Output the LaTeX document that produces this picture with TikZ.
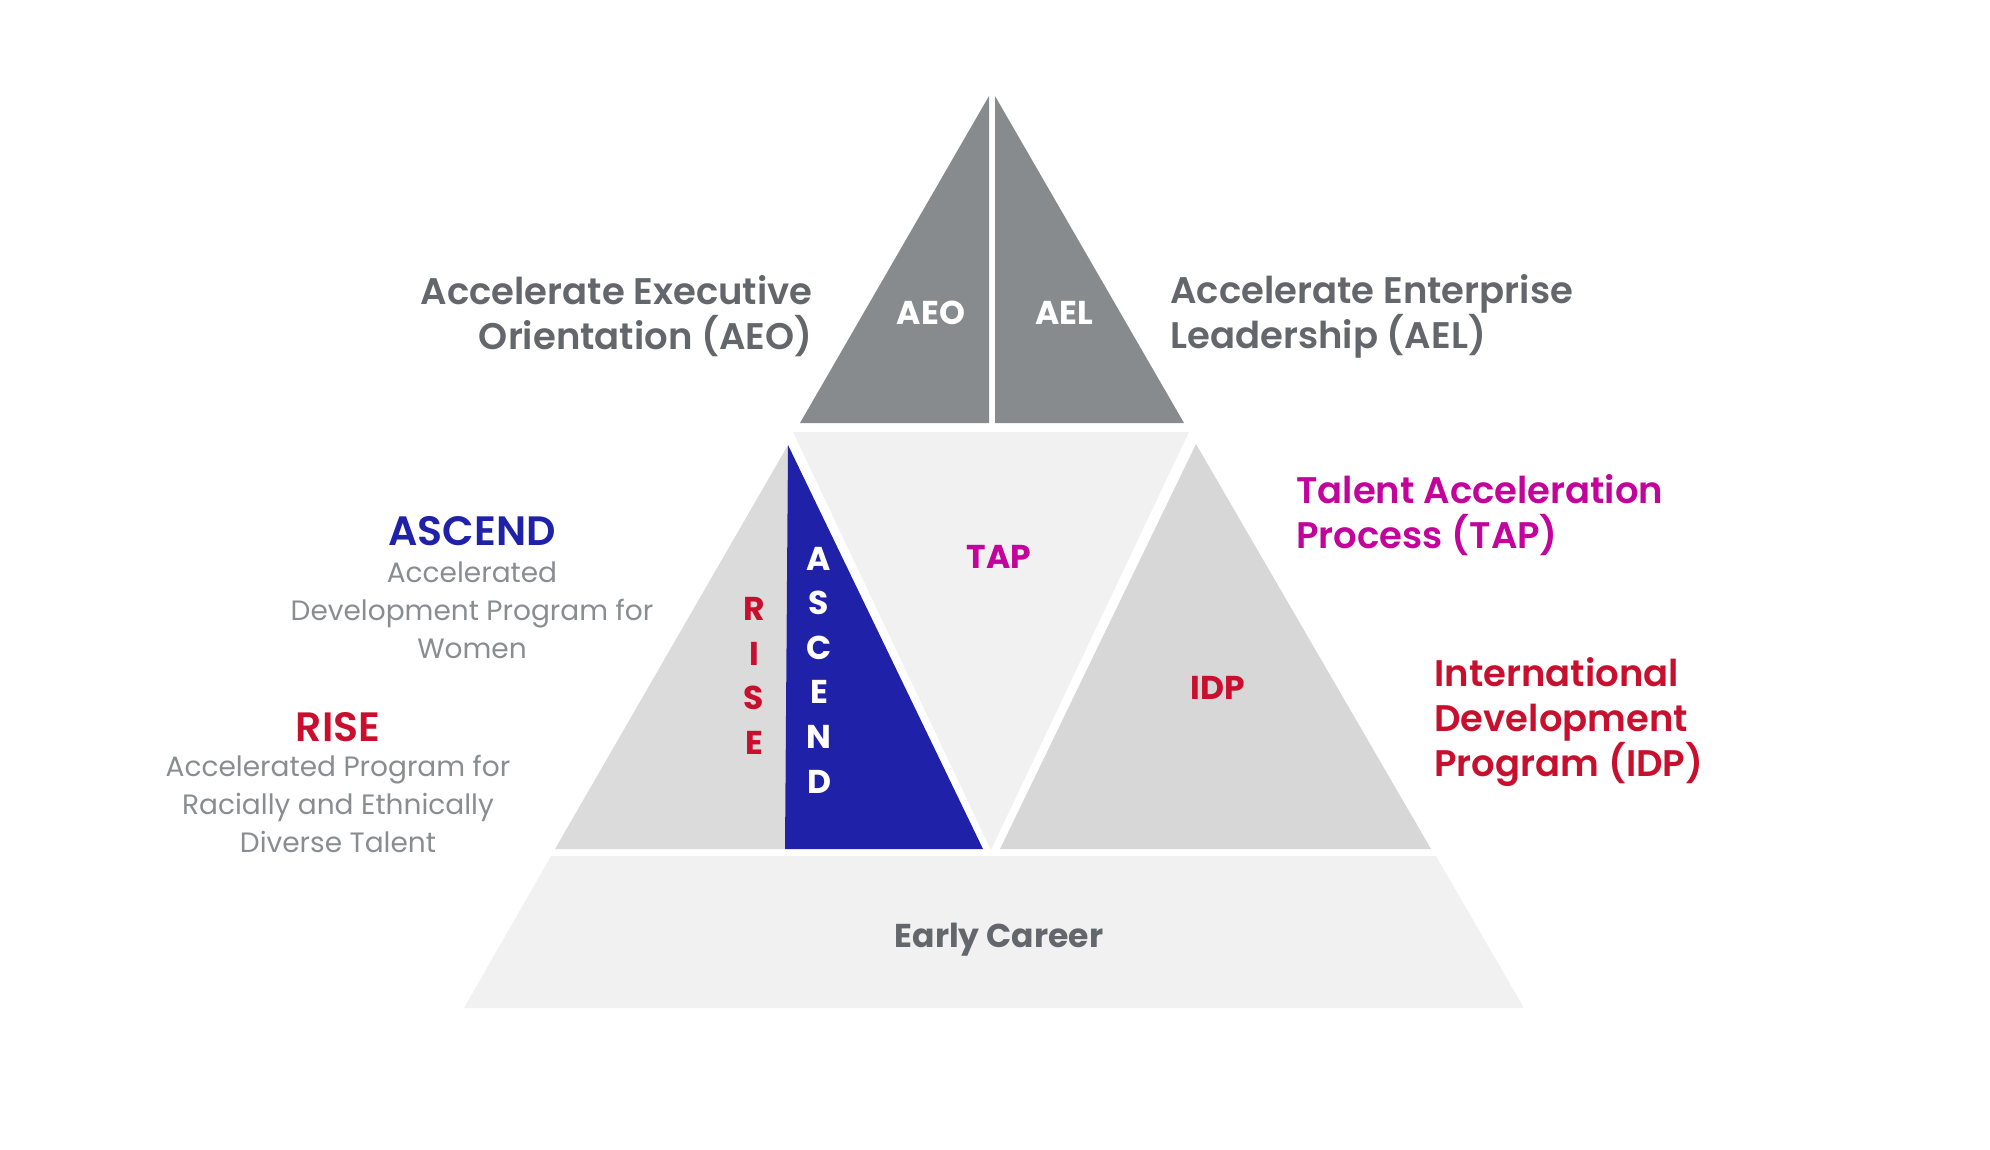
\documentclass[tikz,border=0pt]{standalone}
\usepackage{fontspec}
\setmainfont{Poppins}[BoldFont={* SemiBold}]
\newfontfamily\heavyfont{Poppins}[UprightFont={* Bold}]
\definecolor{topgray}{HTML}{888B8E}
\definecolor{midgray}{HTML}{DBDBDB}
\definecolor{midgrayb}{HTML}{D7D7D7}
\definecolor{lightgray}{HTML}{F1F1F1}
\definecolor{navy}{HTML}{1F21A8}
\definecolor{crimson}{HTML}{C8102E}
\definecolor{magenta}{HTML}{C2039C}
\definecolor{darktext}{HTML}{63666A}
\definecolor{softtext}{HTML}{8A8D90}
\begin{document}
\begin{tikzpicture}[x=0.5pt,y=-0.5pt,
  head/.style={font=\bfseries\fontsize{18.5}{22.5}\selectfont, inner sep=0pt},
  bighead/.style={font=\bfseries\fontsize{20.5}{24}\selectfont, inner sep=0pt},
  body/.style={font=\fontsize{14}{19.1}\selectfont, text=softtext, inner sep=0pt, align=center},
  inlabel/.style={font=\heavyfont\fontsize{16.5}{20}\selectfont, inner sep=0pt},
  vletters/.style={font=\heavyfont\fontsize{16.5}{22.3}\selectfont, inner sep=0pt, align=center}]
\useasboundingbox (0,0) rectangle (1990,1150);
% top triangle halves
\fill[topgray] (800,423) -- (989,96) -- (989,423) -- cycle;
\fill[topgray] (995,96) -- (1184,423) -- (995,423) -- cycle;
% TAP inverted triangle
\fill[lightgray] (793,432) -- (1189,432) -- (991,850) -- cycle;
% left triangle (RISE) and blue (ASCEND)
\fill[midgray] (555,849) -- (788,445) -- (785,849) -- cycle;
\fill[navy] (788,445) -- (983,849) -- (785,849) -- cycle;
% right triangle (IDP)
\fill[midgrayb] (1000,849) -- (1196,444) -- (1431,849) -- cycle;
% bottom trapezoid
\fill[lightgray] (551,856) -- (1436,856) -- (1524,1008) -- (464,1008) -- cycle;

% inner labels
\node[inlabel, text=white] (aeo) at (931,313) {AEO};
\node[inlabel, text=white] (ael) at (1064,313) {AEL};
\node[inlabel, text=magenta] (tap) at (999,557) {TAP};
\node[inlabel, text=crimson] (idp) at (1218,688) {IDP};
\node[inlabel, text=darktext] (early) at (999,940) {Early Career};
\node[vletters, text=crimson] (rise) at (754,676) {R\\I\\S\\E};
\node[vletters, text=white] (ascend) at (819,670) {A\\S\\C\\E\\N\\D};

% outer labels
\node[head, text=darktext, align=right, anchor=east] (aeotxt) at (813,316) {Accelerate Executive\\Orientation (AEO)};
\node[head, text=darktext, align=left, anchor=west] (aeltxt) at (1170,316) {Accelerate Enterprise\\Leadership (AEL)};
\node[head, text=magenta, align=left, anchor=west] (taptxt) at (1296,515) {Talent Acceleration\\Process (TAP)};
\node[head, text=crimson, align=left, anchor=west] (idptxt) at (1434,722) {International\\Development\\Program (IDP)};
\node[bighead, text=navy] (ascendhead) at (472,531) {ASCEND};
\node[body] (ascendbody) at (472,610) {Accelerated\\Development Program for\\Women};
\node[bighead, text=crimson] (risehead) at (338,727) {RISE};
\node[body] (risebody) at (338,804) {Accelerated Program for\\Racially and Ethnically\\Diverse Talent};
\end{tikzpicture}
\end{document}
